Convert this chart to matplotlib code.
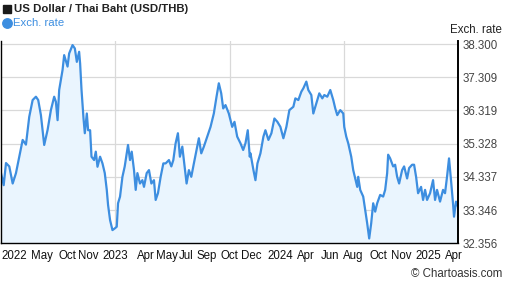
import numpy as np
import matplotlib
matplotlib.use("Agg")
import matplotlib.pyplot as plt
from matplotlib.lines import Line2D

plt.rcParams['font.family'] = ['Liberation Sans', 'DejaVu Sans']

# sample positions along the time axis (chart x units) and USD/THB rate
pos = [0, 2.7, 5, 8.3, 11.7, 15, 18.3, 21.7, 25, 28.3, 31.7, 35, 37.3, 40, 41.7,
       43.3, 46.7, 50, 53.3, 55, 56.7, 58.3, 61.7, 63.3, 66.7, 68.3, 71.7, 74, 76,
       78.3, 79.3, 80.7, 82.7, 84, 86, 87.3, 89.3, 90.7, 93.3, 95, 96.7, 99.3, 101.7,
       104, 106, 107.3, 109.3, 111.7, 114, 116, 117.3, 119.3, 121.7, 124, 126, 127.3,
       129.3, 131, 133.3, 135, 136.7, 139.3, 141.7, 143.3, 146, 148.3, 150.7, 153.3,
       155, 157.3, 160, 162.7, 165, 168.3, 170.7, 172.7, 175, 177.3, 179.3, 181.7,
       184, 186, 188.3, 190.7, 193.3, 196.7, 198.3, 200.7, 203.3, 206.7, 210, 213.3,
       216, 218.3, 220.7, 222.7, 225, 228.3, 231.7, 234, 236.7, 240, 242.7, 245,
       247.3, 249.3,
       250, 253, 255, 257, 260, 263, 265, 268, 271, 274, 277, 280, 283, 286, 289,
       293, 295, 298, 301, 303, 306, 308, 311, 313, 317, 319, 322, 324, 327, 330,
       333, 335, 337, 340, 343, 344, 346, 348, 351, 353, 355, 357, 358, 360, 363,
       365, 367, 369, 371, 373, 375, 377, 380, 383, 385, 387, 388, 390, 393, 395,
       397, 399, 402, 404, 407, 409, 412, 414, 416, 418, 421, 423, 425, 427, 430,
       433, 435, 437, 440, 443, 445, 447, 449, 451, 453, 454, 456, 458]
rate = [34.45, 34.09, 34.75, 34.65, 34.14, 34.45, 34.94, 35.44, 35.30, 36.13, 36.63,
        36.73, 36.63, 36.18, 35.73, 35.29, 35.74, 36.33, 36.73, 36.58, 36.03, 36.93,
        37.53, 37.97, 37.63, 38.02, 38.27, 38.17, 37.77, 38.07, 37.72, 36.93, 36.08,
        35.64, 36.23, 35.73, 35.73, 34.94, 34.84, 35.09, 34.64, 34.94, 34.74, 34.45,
        33.95, 33.50, 33.05, 32.75, 32.80, 32.85, 33.55, 33.75, 34.34, 34.65, 35.04,
        35.29, 34.84, 35.09, 34.54, 33.95, 34.45, 34.14, 34.24, 34.04, 34.45, 34.54,
        34.14, 34.24, 33.65, 33.85, 34.34, 34.74, 34.74, 34.84, 34.65, 34.84, 35.34,
        35.64, 34.94, 35.24, 34.65, 34.14, 34.54, 34.34, 34.74, 35.24, 35.49, 35.04,
        35.24, 35.54, 35.83, 36.23, 36.73, 37.13, 36.83, 36.38, 36.48, 36.23, 35.83,
        35.98, 35.54, 35.34, 35.14, 35.34, 35.73, 34.94,
        35.04, 34.54, 34.24, 34.74, 35.04, 35.54, 35.73, 35.44, 35.64, 36.08, 35.98,
        35.83, 35.49, 35.83, 36.33, 36.43, 36.68, 36.63, 36.88, 36.98, 37.18, 36.93,
        36.78, 36.23, 36.63, 36.83, 36.68, 36.78, 36.73, 36.93, 36.63, 36.38, 36.18,
        36.33, 36.23, 35.83, 35.54, 35.34, 34.94, 34.54, 34.29, 34.04, 34.34, 33.95,
        33.75, 33.35, 32.95, 32.50, 32.95, 33.55, 33.30, 33.55, 33.80, 33.75, 33.95,
        34.45, 35.00, 34.89, 34.65, 34.70, 34.34, 34.14, 34.54, 34.65, 34.29, 34.60,
        34.70, 34.70, 34.34, 33.85, 34.04, 33.65, 33.95, 33.65, 33.85, 34.24, 33.65,
        33.95, 33.60, 33.95, 33.85, 34.34, 34.89, 34.24, 33.55, 33.15, 33.60, 33.45]

ytick_vals = [32.356, 33.346, 34.337, 35.328, 36.319, 37.309, 38.300]
xtick_pos = [13, 41, 67, 87, 115, 145, 166, 186, 206, 229, 251, 280, 306, 330,
             353, 378, 401, 428, 454]
xtick_labels = ['2022', 'May', 'Oct', 'Nov', '2023', 'Apr', 'May', 'Jul', 'Sep',
                'Oct', 'Dec', '2024', 'Apr', 'Jun', 'Aug', 'Oct', 'Nov', '2025', 'Apr']

W, H = 507, 288
fig = plt.figure(figsize=(W / 100, H / 100), dpi=100)
ax = fig.add_axes([1 / W, (H - 243.3) / H, 457 / W, (243.3 - 40.7) / H])

line_color = '#3d8ee0'
ax.fill_between(pos, rate, 32.356, color='#eaf5fe', lw=0)
ax.plot(pos, rate, color=line_color, lw=1.6, solid_joinstyle='round')

ax.set_xlim(0, 458)
ax.set_ylim(32.356, 38.401)

# grid
for v in ytick_vals[1:]:
    ax.axhline(v, color='#d9d9d9', lw=0.9, zorder=0)
for xv in np.linspace(0, 458, 5)[1:-1]:
    ax.axvline(xv, color='#d9d9d9', lw=0.9, zorder=0)

ax.spines['top'].set_visible(False)
for s in ['left', 'bottom']:
    ax.spines[s].set_color('black')
    ax.spines[s].set_linewidth(1.0)
ax.spines['right'].set_color('black')
ax.spines['right'].set_linewidth(1.4)

ax.yaxis.tick_right()
ax.set_yticks(ytick_vals)
ax.set_yticklabels([f'{v:.3f}' for v in ytick_vals])
ax.tick_params(axis='y', length=0, pad=3, labelsize=8.3, labelcolor='#444444')
ax.set_xticks(xtick_pos)
ax.set_xticklabels(xtick_labels)
ax.tick_params(axis='x', length=0, pad=5, labelsize=8.3, labelcolor='#111111')

# header
fig.add_artist(Line2D([6.5 / W], [1 - 9 / H], marker='s', markersize=6.3,
                      color='#1a1a1a', transform=fig.transFigure))
fig.text(13.5 / W, 1 - 9 / H, 'US Dollar / Thai Baht (USD/THB)', fontsize=8.2,
         fontweight='bold', color='#222222', va='center', ha='left')
fig.add_artist(Line2D([6.5 / W], [1 - 22.5 / H], marker='o', markersize=6.8,
                      color=line_color, transform=fig.transFigure))
fig.text(13 / W, 1 - 22.5 / H, 'Exch. rate', fontsize=8.2, color=line_color,
         va='center', ha='left')
fig.text(502 / W, 1 - 30 / H, 'Exch. rate', fontsize=8.3, color='#222222',
         va='center', ha='right')
fig.text(502 / W, 1 - 274 / H, '\u00a9 Chartoasis.com', fontsize=8.3, color='#333333',
         va='center', ha='right')

fig.savefig('out.png', dpi=100)
